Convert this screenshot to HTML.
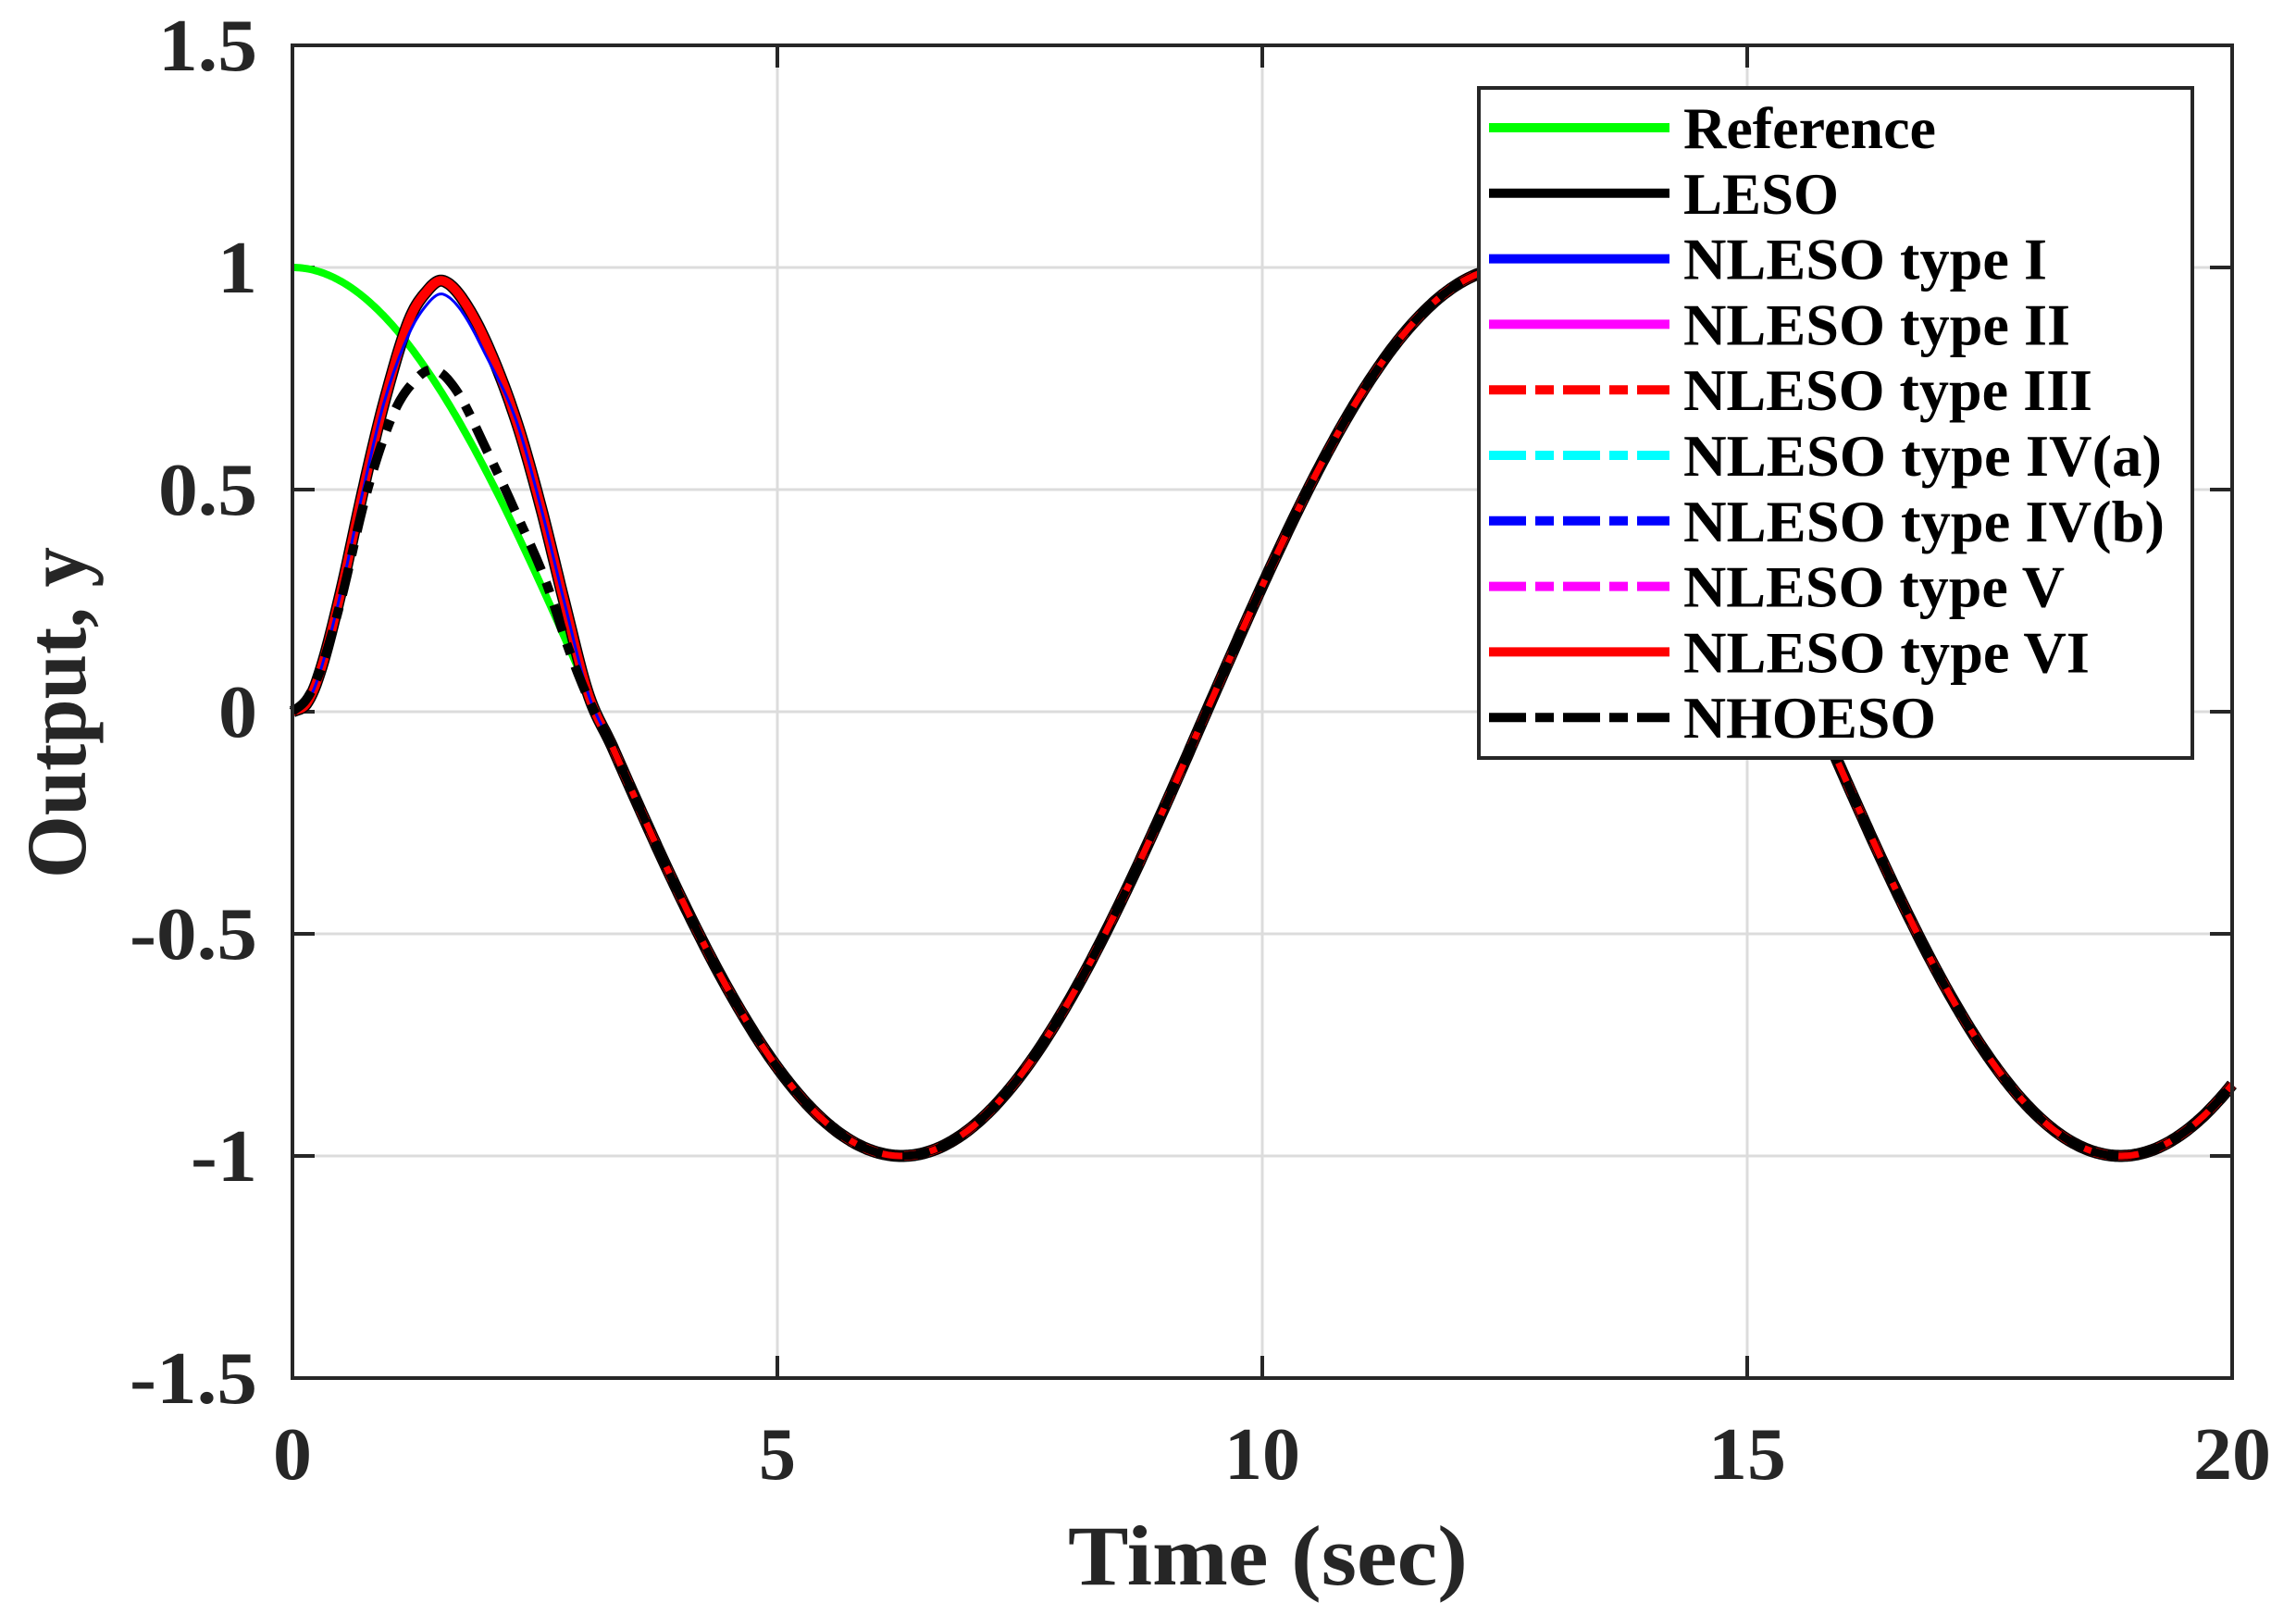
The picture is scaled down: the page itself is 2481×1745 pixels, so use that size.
<!DOCTYPE html>
<html><head><meta charset="utf-8"><style>
html,body{margin:0;padding:0;background:#fff;}
svg{display:block;}
text{font-family:"Liberation Serif",serif;font-weight:bold;fill:#262626;}
</style></head><body>
<svg id="s" width="2481" height="1745" viewBox="0 0 2481 1745" xmlns="http://www.w3.org/2000/svg">
<rect width="2481" height="1745" fill="#fff"/>
<g stroke="#dcdcdc" stroke-width="3">
<line x1="840" y1="49" x2="840" y2="1489"/><line x1="1364" y1="49" x2="1364" y2="1489"/><line x1="1888" y1="49" x2="1888" y2="1489"/>
<line x1="316" y1="289" x2="2412" y2="289"/><line x1="316" y1="529" x2="2412" y2="529"/><line x1="316" y1="769" x2="2412" y2="769"/><line x1="316" y1="1009" x2="2412" y2="1009"/><line x1="316" y1="1249" x2="2412" y2="1249"/>
</g>
<g stroke="#262626" stroke-width="4">
<line x1="840" y1="1489" x2="840" y2="1465"/><line x1="1364" y1="1489" x2="1364" y2="1465"/><line x1="1888" y1="1489" x2="1888" y2="1465"/>
<line x1="840" y1="49" x2="840" y2="73"/><line x1="1364" y1="49" x2="1364" y2="73"/><line x1="1888" y1="49" x2="1888" y2="73"/>
<line x1="316" y1="289" x2="340" y2="289"/><line x1="316" y1="529" x2="340" y2="529"/><line x1="316" y1="769" x2="340" y2="769"/><line x1="316" y1="1009" x2="340" y2="1009"/><line x1="316" y1="1249" x2="340" y2="1249"/>
<line x1="2412" y1="289" x2="2388" y2="289"/><line x1="2412" y1="529" x2="2388" y2="529"/><line x1="2412" y1="769" x2="2388" y2="769"/><line x1="2412" y1="1009" x2="2388" y2="1009"/><line x1="2412" y1="1249" x2="2388" y2="1249"/>
</g>
<g id="curves" fill="none" stroke-linejoin="round"></g>
<rect x="316" y="49" width="2096" height="1440" fill="none" stroke="#262626" stroke-width="4"/>
<g font-size="80" text-anchor="end" lengthAdjust="spacingAndGlyphs">
<text x="278" y="76" textLength="107" lengthAdjust="spacingAndGlyphs">1.5</text>
<text x="278" y="316" textLength="43" lengthAdjust="spacingAndGlyphs">1</text>
<text x="278" y="556" textLength="107" lengthAdjust="spacingAndGlyphs">0.5</text>
<text x="278" y="796" textLength="42" lengthAdjust="spacingAndGlyphs">0</text>
<text x="278" y="1036" textLength="138" lengthAdjust="spacingAndGlyphs">-0.5</text>
<text x="278" y="1276" textLength="72" lengthAdjust="spacingAndGlyphs">-1</text>
<text x="278" y="1516" textLength="138" lengthAdjust="spacingAndGlyphs">-1.5</text>
</g>
<g font-size="80" text-anchor="middle">
<text x="316" y="1598" textLength="42" lengthAdjust="spacingAndGlyphs">0</text>
<text x="840" y="1598" textLength="40" lengthAdjust="spacingAndGlyphs">5</text>
<text x="1364" y="1598" textLength="82" lengthAdjust="spacingAndGlyphs">10</text>
<text x="1888" y="1598" textLength="84" lengthAdjust="spacingAndGlyphs">15</text>
<text x="2412" y="1598" textLength="84" lengthAdjust="spacingAndGlyphs">20</text>
</g>
<text x="1370" y="1712" font-size="92" text-anchor="middle" textLength="432" lengthAdjust="spacingAndGlyphs">Time (sec)</text>
<text transform="translate(92,770) rotate(-90)" font-size="92" text-anchor="middle" textLength="358" lengthAdjust="spacingAndGlyphs">Output, y</text>
<rect x="1598" y="95" width="771" height="724" fill="#fff" stroke="#262626" stroke-width="4"/>
<g id="leg" stroke-width="10"></g>
</svg>
<script>
var X=function(t){return 316+t*104.8;},Y=function(v){return 769-v*480;};
function interp(pts,t){for(var i=0;i<pts.length-1;i++){if(t<=pts[i+1][0]){var a=pts[i],b=pts[i+1];
var p0=pts[Math.max(i-1,0)],p3=pts[Math.min(i+2,pts.length-1)];var u=(t-a[0])/(b[0]-a[0]);
var m1=(b[1]-p0[1])/(b[0]-p0[0])*(b[0]-a[0]),m2=(p3[1]-a[1])/(p3[0]-a[0])*(b[0]-a[0]);
var h00=2*u*u*u-3*u*u+1,h10=u*u*u-2*u*u+u,h01=-2*u*u*u+3*u*u,h11=u*u*u-u*u;
return h00*a[1]+h10*m1+h01*b[1]+h11*m2;}}return pts[pts.length-1][1];}
var T0=3.3;
function curve(pts,t0){var d="";for(var t=0;t<=20.0001;t+=0.02){var v=t<t0?interp(pts,t):Math.cos(t/2);d+=(d?"L":"M")+X(t).toFixed(1)+" "+Y(v).toFixed(1);}return d;}
function ref(){var d="";for(var t=0;t<=20.0001;t+=0.02){d+=(d?"L":"M")+X(t).toFixed(1)+" "+Y(Math.cos(t/2)).toFixed(1);}return d;}
var red=[[0,0],[0.15,0.02],[0.3,0.1],[0.5,0.27],[0.73,0.5],[0.95,0.7],[1.2,0.88],[1.4,0.95],[1.55,0.97],[1.75,0.93],[2.0,0.83],[2.3,0.66],[2.55,0.47],[2.8,0.25],[3.05,0.04],[3.3,Math.cos(1.65)],[3.5,Math.cos(1.75)]];
var blue=red.map(function(p){return [p[0],p[1]>0.8?p[1]-0.03:p[1]];});
var nh=[[0,0],[0.15,0.03],[0.3,0.1],[0.5,0.25],[0.75,0.48],[1.0,0.65],[1.2,0.73],[1.45,0.77],[1.7,0.72],[2.0,0.59],[2.3,0.45],[2.6,0.3],[2.85,0.14],[3.05,0.03],[3.3,Math.cos(1.65)],[3.5,Math.cos(1.75)]];
var g=document.getElementById("curves"),ns="http://www.w3.org/2000/svg";
function add(d,c,w,da){var p=document.createElementNS(ns,"path");p.setAttribute("d",d);p.setAttribute("stroke",c);p.setAttribute("stroke-width",w);if(da)p.setAttribute("stroke-dasharray",da);g.appendChild(p);}
add(ref(),"#00ff00",8);
add(curve(red,T0),"#000",13);
add(curve(red,T0),"#ff00ff",9);
add(curve(red,T0),"#ff0000",10);
add(curve(blue,T0),"#0000ff",3);
add(curve(nh,T0),"#000",10,"30 14 12 14");
var d="";for(var t=T0;t<=20.0001;t+=0.02){d+=(d?"L":"M")+X(t).toFixed(1)+" "+Y(Math.cos(t/2)).toFixed(1);}
add(d,"#000",9);add(d,"#ff0000",7,"22 30 8 30");
var L=document.getElementById("leg");
var items=[["Reference","#00ff00","",273],["LESO","#000","",168],["NLESO type I","#0000ff","",393],["NLESO type II","#ff00ff","",418],["NLESO type III","#ff0000","40 10 20 10",442],["NLESO type IV(a)","#00ffff","40 10 20 10",517],["NLESO type IV(b)","#0000ff","40 10 20 10",520],["NLESO type V","#ff00ff","40 10 20 10",412],["NLESO type VI","#ff0000","",439],["NHOESO","#000","40 10 20 10",273]];
items.forEach(function(it,i){var y=138+i*70.8;var l=document.createElementNS(ns,"line");l.setAttribute("x1",1609);l.setAttribute("x2",1804);l.setAttribute("y1",y);l.setAttribute("y2",y);l.setAttribute("stroke",it[1]);if(it[2])l.setAttribute("stroke-dasharray",it[2]);L.appendChild(l);
var tx=document.createElementNS(ns,"text");tx.setAttribute("x",1819);tx.setAttribute("y",y+22);tx.setAttribute("font-size","64");tx.setAttribute("stroke","none");tx.setAttribute("textLength",it[3]);tx.setAttribute("lengthAdjust","spacingAndGlyphs");tx.style.fill="#000";tx.textContent=it[0];L.appendChild(tx);});
</script>
</body></html>
